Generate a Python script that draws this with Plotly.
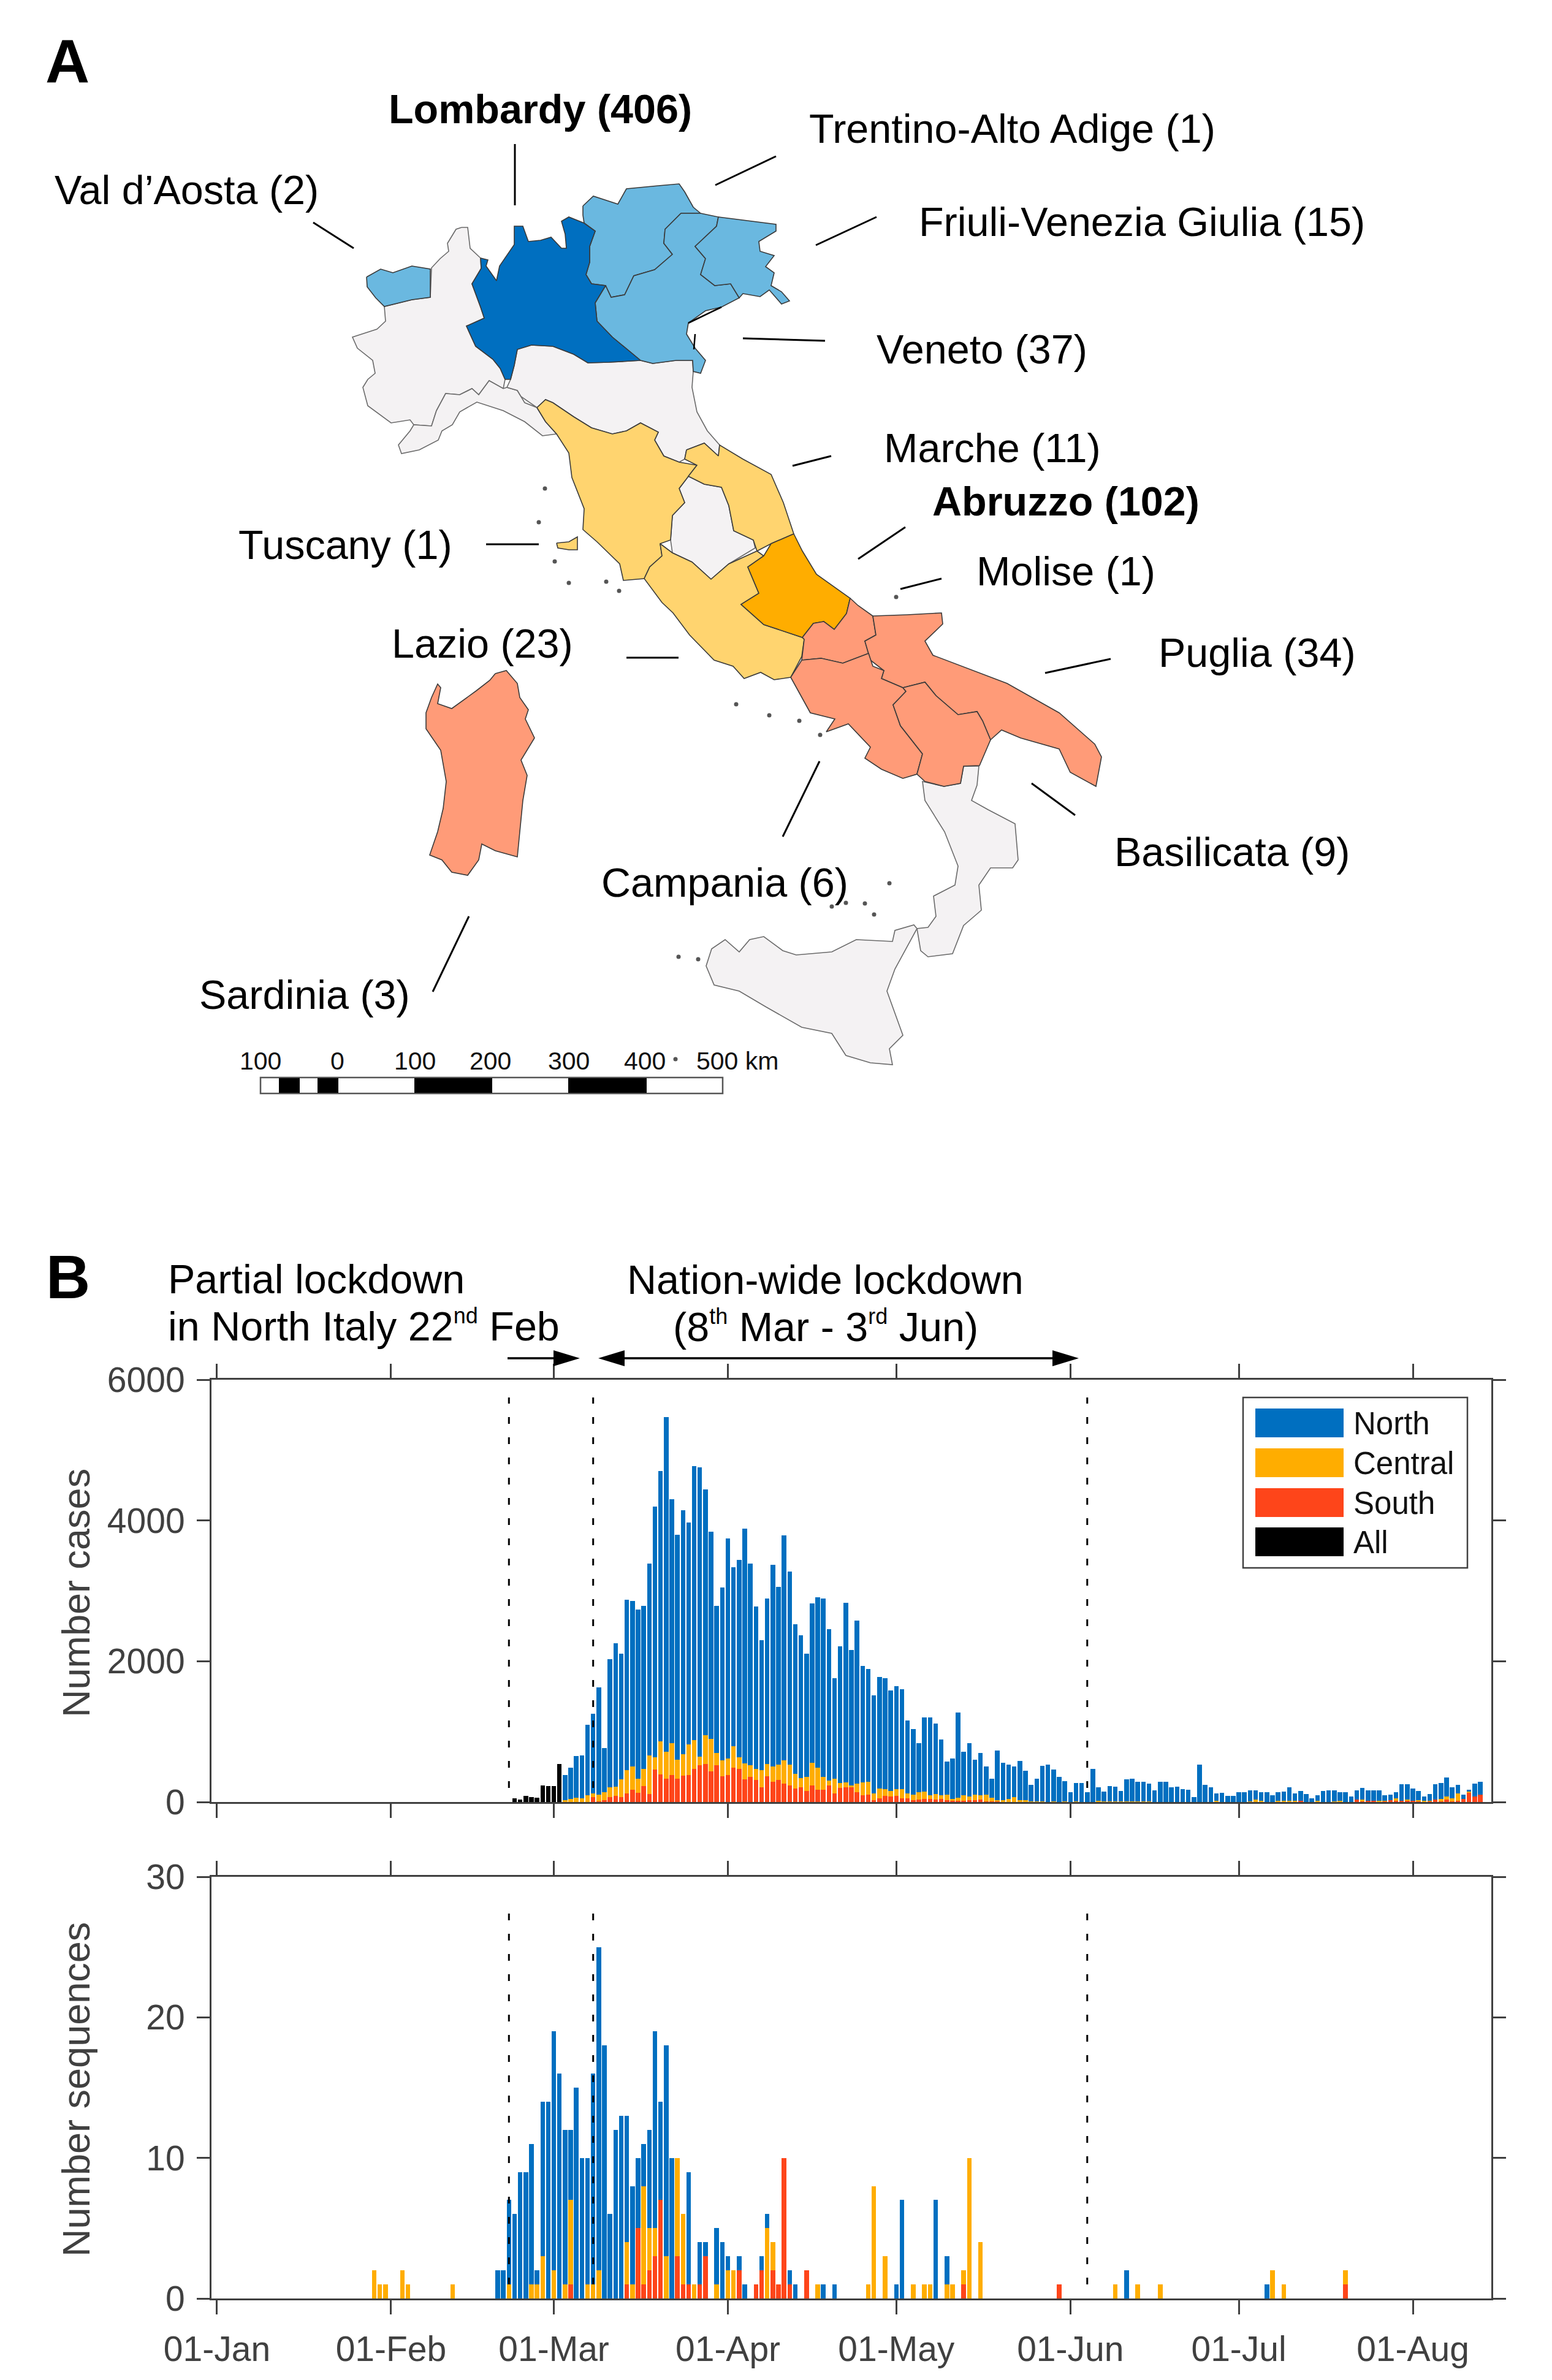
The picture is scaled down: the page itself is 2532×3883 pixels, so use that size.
import pandas as pd
import plotly.graph_objects as go

# ---- panel B data ----
# days counted from 01-Jan-2020
all_days = [53, 54, 55, 56, 57, 58, 59, 60, 61]
all_cases = [53, 36, 89, 71, 62, 231, 227, 227, 538]

case_days = list(range(62, 226))
# stack tops: total height, top of central+south, top of south
cases_total = [
    387, 489, 653, 662, 1098, 1258, 1631, 764, 2031, 2258,
    2111, 2871, 2858, 2733, 2787, 3391, 4200, 4702, 5467, 4298,
    3800, 4147, 3969, 4773, 4756, 4440, 3844, 2787, 3044, 3742,
    3338, 3440, 3884, 3387, 2778, 2302, 2889, 3369, 3053, 3791,
    3276, 2524, 2369, 2107, 2822, 2907, 2889, 2458, 1756, 2209,
    2827, 2160, 2578, 1933, 1893, 1511, 1773, 1756, 1587, 1644,
    1604, 1156, 1040, 840, 1200, 1200, 1116, 884, 578, 618,
    1271, 715, 835, 600, 697, 502, 328, 728, 558, 535,
    507, 585, 444, 242, 333, 513, 535, 460, 358, 299,
    139, 270, 270, 136, 467, 206, 148, 226, 220, 154,
    319, 334, 284, 284, 261, 168, 290, 290, 206, 220,
    183, 174, 67, 531, 241, 206, 119, 133, 87, 87,
    139, 139, 162, 162, 139, 139, 96, 139, 148, 212,
    122, 154, 116, 52, 96, 154, 162, 168, 139, 139,
    75, 168, 203, 168, 168, 168, 96, 102, 136, 255,
    255, 189, 154, 81, 116, 252, 273, 351, 212, 241,
    102, 174, 261, 287,
]
cases_central_top = [
    27, 40, 62, 53, 98, 124, 107, 142, 209, 218,
    320, 453, 507, 333, 467, 662, 636, 858, 711, 836,
    600, 676, 818, 876, 644, 947, 893, 698, 591, 618,
    796, 640, 551, 524, 467, 453, 538, 502, 533, 591,
    533, 400, 338, 356, 560, 489, 360, 302, 333, 271,
    276, 231, 258, 276, 289, 124, 191, 187, 160, 187,
    187, 124, 102, 142, 147, 98, 116, 98, 107, 44,
    62, 98, 76, 107, 98, 102, 58, 22, 29, 44,
    67, 22, 29, 9, 9, 9, 0, 9, 0, 9,
    0, 9, 0, 0, 0, 17, 9, 9, 9, 9,
    9, 12, 12, 12, 9, 0, 0, 0, 0, 0,
    0, 0, 0, 0, 0, 0, 15, 0, 0, 0,
    0, 0, 9, 32, 17, 0, 0, 17, 17, 17,
    17, 17, 0, 0, 17, 0, 0, 12, 17, 0,
    0, 38, 32, 17, 17, 17, 17, 23, 52, 17,
    38, 17, 23, 17, 17, 32, 41, 81, 49, 119,
    44, 145, 81, 102,
]
cases_south = [
    0, 0, 0, 0, 0, 67, 13, 22, 71, 89,
    71, 124, 178, 133, 227, 111, 458, 391, 333, 387,
    333, 373, 387, 467, 520, 542, 436, 524, 369, 382,
    489, 467, 320, 356, 316, 213, 364, 289, 311, 258,
    231, 191, 213, 160, 236, 178, 173, 231, 124, 204,
    213, 213, 142, 98, 102, 22, 53, 89, 80, 89,
    53, 53, 22, 31, 44, 44, 36, 40, 22, 18,
    18, 18, 22, 22, 36, 9, 9, 9, 0, 0,
    0, 0, 0, 0, 0, 0, 0, 0, 0, 0,
    0, 0, 0, 0, 0, 0, 0, 0, 0, 0,
    0, 0, 0, 0, 0, 0, 0, 0, 0, 0,
    0, 0, 0, 0, 0, 0, 0, 0, 0, 0,
    0, 0, 0, 0, 0, 0, 0, 0, 0, 0,
    0, 17, 0, 0, 0, 0, 0, 0, 0, 0,
    0, 38, 17, 17, 17, 0, 9, 23, 17, 17,
    23, 17, 9, 0, 9, 32, 9, 32, 9, 17,
    44, 139, 81, 102,
]

seq_days = [
    28, 29, 30, 33, 34, 42, 50, 51, 52, 53, 54, 55, 56, 57, 58, 59, 60, 61, 62, 63,
    64, 65, 66, 67, 68, 69, 70, 71, 72, 73, 74, 75, 76, 77, 78, 79, 80, 81, 82, 83,
    84, 85, 86, 87, 89, 90, 91, 92, 93, 94, 96, 97, 98, 99, 100, 101, 102, 103, 105, 107,
    108, 110, 116, 117, 119, 121, 122, 124, 126, 127, 128, 130, 131, 133, 134, 136, 150, 160, 162, 164,
    168, 187, 188, 190, 201,
]
seq_total = [
    2, 1, 1, 2, 1, 1, 2, 2, 7, 6, 9, 9, 11, 2, 14, 14, 19, 16, 12, 12,
    15, 10, 10, 16, 25, 18, 6, 12, 13, 13, 8, 10, 11, 12, 19, 14, 18, 10, 10, 6,
    9, 1, 4, 4, 5, 4, 3, 2, 3, 1, 1, 3, 6, 4, 1, 10, 2, 1, 2, 1,
    1, 1, 1, 8, 3, 1, 7, 1, 1, 1, 7, 3, 1, 2, 10, 4, 1, 1, 2, 1,
    1, 1, 2, 1, 2,
]
seq_central_top = [
    2, 1, 1, 2, 1, 1, 0, 0, 1, 0, 0, 0, 1, 1, 3, 0, 2, 0, 1, 7,
    0, 0, 1, 1, 2, 0, 0, 0, 0, 4, 1, 5, 8, 5, 5, 7, 3, 0, 10, 6,
    1, 1, 1, 3, 1, 0, 2, 2, 2, 0, 1, 2, 5, 4, 1, 10, 1, 0, 2, 1,
    0, 0, 1, 8, 3, 0, 0, 1, 1, 1, 0, 1, 1, 2, 10, 4, 1, 1, 0, 1,
    1, 0, 2, 1, 2,
]
seq_south = [
    0, 0, 0, 0, 0, 0, 0, 0, 0, 0, 0, 0, 0, 0, 0, 0, 0, 0, 0, 1,
    0, 0, 0, 0, 0, 0, 0, 0, 0, 1, 0, 5, 1, 2, 3, 7, 0, 0, 3, 1,
    1, 0, 1, 3, 0, 0, 0, 0, 2, 0, 1, 2, 0, 2, 1, 10, 1, 0, 2, 0,
    0, 0, 0, 0, 0, 0, 0, 0, 0, 0, 0, 0, 0, 1, 0, 0, 1, 0, 0, 0,
    0, 0, 0, 0, 1,
]

lockdown_days = [52, 67, 155]

legend_names = ["North", "Central", "South", "All"]
COL_NORTH = "#006FC0"
COL_CENTRAL = "#FFAD00"
COL_SOUTH = "#FE451A"
COL_ALL = "#000000"
legend_colors = [COL_NORTH, COL_CENTRAL, COL_SOUTH, COL_ALL]

# ---- panel A outlines (page pixels) ----
piedmont = [(753,371),(744,374),(730,397),(732,410),(718,422),(704,437),(702,485),(672,489),(627,500),(629,524),
            (615,537),(575,550),(583,568),(608,588),(612,609),(600,619),(592,632),(600,662),(638,690),(669,685),
            (675,693),(704,695),(712,670),(727,642),(750,644),(770,634),(781,644),(798,621),(821,634),(824,619),
            (816,601),(804,586),(776,565),(761,532),(790,519),(784,501),(770,463),(785,438),(784,421),(767,405),(763,371)]
aosta = [(598,452),(621,439),(641,445),(672,434),(702,439),(702,485),(672,489),(652,494),(627,500),(613,486),(599,468)]
lombardy = [(784,421),(796,424),(793,434),(810,458),(815,434),(839,399),(839,369),(853,369),(862,394),(882,392),
            (899,387),(916,405),(924,405),(922,382),(916,361),(928,354),(953,364),(971,377),(962,402),(962,428),
            (956,448),(965,463),(988,466),(971,494),(974,524),(999,550),(1045,588),(994,591),(959,592),(936,578),
            (902,565),(867,563),(844,570),(839,596),(833,619),(824,619),(816,601),(804,586),(776,565),(761,532),
            (790,519),(784,501),(770,463),(785,438)]
trentino = [(951,336),(968,320),(1008,333),(1022,308),(1074,303),(1108,300),(1117,313),(1131,338),(1143,348),(1111,348),
            (1085,374),(1083,397),(1097,415),(1068,440),(1034,450),(1019,481),(997,485),(988,466),(965,463),(956,448),
            (962,428),(962,402),(971,377),(953,364),(951,351)]
veneto = [(1111,348),(1143,348),(1172,354),(1169,369),(1134,402),(1151,422),(1143,448),(1166,466),(1192,463),(1206,486),
          (1177,501),(1151,507),(1123,527),(1120,545),(1134,568),(1151,588),(1143,609),(1131,606),(1130,588),(1103,588),
          (1065,593),(1045,588),(999,550),(974,524),(971,494),(988,466),(997,485),(1019,481),(1034,450),(1068,440),
          (1097,415),(1083,397),(1085,374)]
friuli = [(1172,354),(1212,359),(1266,366),(1266,377),(1238,394),(1240,410),(1263,417),(1249,435),(1263,445),(1258,466),
          (1275,476),(1288,491),(1275,496),(1255,473),(1240,484),(1212,479),(1206,486),(1192,463),(1166,466),(1143,448),
          (1151,422),(1134,402),(1169,369)]
emilia = [(833,619),(839,596),(844,570),(867,563),(902,565),(936,578),(959,592),(994,591),(1045,588),(1065,593),
          (1103,588),(1130,588),(1131,606),(1129,632),(1137,672),(1154,703),(1174,726),(1172,744),(1149,723),(1120,734),
          (1117,749),(1108,754),(1083,744),(1068,718),(1074,705),(1045,690),(1022,703),(999,708),(965,698),(936,680),
          (902,657),(890,652),(876,665),(850,647),(844,637),(827,632)]
liguria = [(827,632),(844,637),(850,647),(856,657),(876,665),(890,688),(908,708),(885,711),(856,688),(821,670),
           (778,656),(750,672),(738,693),(721,703),(715,718),(684,734),(655,740),(650,726),(669,703),(675,693),
           (704,695),(712,670),(727,642),(750,644),(770,634),(781,644),(798,621),(821,634)]
tuscany = [(876,665),(890,652),(902,657),(936,680),(965,698),(999,708),(1022,703),(1045,690),(1074,705),(1068,718),
           (1083,744),(1108,754),(1137,759),(1123,777),(1108,797),(1117,820),(1097,841),(1094,881),(1077,887),(1080,907),
           (1060,925),(1051,944),(1017,947),(1011,920),(974,884),(951,864),(953,830),(933,779),(928,739),(908,708),(890,688)]
elba = [(908,886),(928,884),(942,876),(942,897),(928,897),(910,894)]
marche = [(1120,734),(1149,723),(1172,744),(1174,726),(1212,749),(1258,774),(1278,820),(1295,871),(1258,887),(1235,899),
          (1229,881),(1197,866),(1189,825),(1177,795),(1149,790),(1123,777),(1137,759),(1117,749)]
umbria = [(1123,777),(1149,790),(1177,795),(1189,825),(1197,866),(1229,881),(1232,894),(1189,920),(1160,945),(1129,917),
          (1097,902),(1094,881),(1097,841),(1117,820),(1108,797)]
lazio = [(1077,887),(1097,902),(1129,917),(1160,945),(1189,920),(1235,899),(1246,907),(1220,925),(1238,968),(1209,986),
         (1246,1019),(1309,1040),(1312,1043),(1308,1071),(1290,1105),(1263,1109),(1241,1097),(1214,1107),(1196,1087),
         (1165,1077),(1125,1036),(1098,1000),(1080,983),(1051,944),(1060,925),(1080,907)]
abruzzo = [(1295,871),(1309,899),(1332,937),(1387,976),(1381,1001),(1361,1027),(1344,1014),(1327,1017),(1309,1040),(1246,1019),
           (1209,986),(1238,968),(1220,925),(1246,907),(1258,887)]
molise = [(1387,976),(1400,988),(1424,1005),(1429,1036),(1411,1046),(1417,1066),(1375,1082),(1339,1074),(1308,1077),(1312,1043),
          (1309,1040),(1327,1017),(1344,1014),(1361,1027),(1381,1001)]
puglia = [(1424,1005),(1480,1003),(1536,1000),(1538,1018),(1509,1046),(1522,1069),(1643,1115),(1728,1163),(1786,1214),(1797,1235),
          (1788,1283),(1746,1260),(1728,1222),(1665,1204),(1634,1191),(1616,1207),(1603,1176),(1594,1161),(1563,1166),(1527,1135),
          (1509,1113),(1473,1122),(1438,1107),(1442,1094),(1420,1077),(1411,1046),(1429,1036)]
campania = [(1308,1077),(1340,1074),(1375,1082),(1417,1066),(1424,1087),(1442,1094),(1438,1107),(1473,1122),(1478,1128),(1457,1150),
            (1469,1184),(1505,1230),(1496,1263),(1473,1270),(1438,1255),(1411,1237),(1420,1219),(1384,1181),(1348,1194),(1362,1173),
            (1322,1163),(1290,1105)]
basilicata = [(1473,1122),(1509,1113),(1527,1135),(1563,1166),(1594,1161),(1603,1176),(1616,1207),(1598,1249),(1572,1250),(1567,1278),
              (1540,1283),(1509,1275),(1496,1263),(1505,1230),(1469,1184),(1457,1150),(1478,1128)]
calabria = [(1572,1250),(1597,1250),(1594,1281),(1585,1306),(1612,1321),(1656,1344),(1661,1403),(1652,1416),(1616,1416),(1597,1444),
            (1601,1485),(1572,1510),(1554,1556),(1514,1561),(1502,1551),(1496,1515),(1514,1513),(1527,1495),(1523,1462),(1558,1444),
            (1563,1413),(1541,1357),(1509,1306),(1505,1275),(1540,1283),(1567,1278)]
sicily = [(1496,1515),(1460,1581),(1447,1617),(1460,1653),(1473,1689),(1451,1711),(1456,1737),(1420,1734),(1380,1722),(1357,1686),
          (1308,1676),(1250,1643),(1206,1617),(1165,1607),(1152,1576),(1161,1548),(1183,1533),(1206,1553),(1223,1533),(1246,1528),
          (1277,1551),(1299,1558),(1357,1553),(1397,1533),(1456,1536),(1460,1518),(1491,1509)]
sardinia = [(808,1099),(826,1094),(844,1115),(848,1138),(862,1158),(857,1173),(872,1204),(850,1240),(860,1265),(853,1306),
            (844,1398),(808,1388),(786,1377),(781,1403),(763,1428),(737,1423),(721,1403),(701,1395),(714,1357),(723,1319),
            (728,1275),(719,1224),(695,1189),(695,1163),(704,1138),(714,1116),(719,1122),(714,1148),(737,1156),(777,1127),(799,1110)]
island_x = [889, 879, 905, 928, 989, 1010, 1338, 1201, 1255, 1451, 1411, 1426, 1380, 1357, 1107, 1139, 1102, 1462, 1304]
island_y = [797, 852, 916, 951, 949, 964, 1199, 1149, 1167, 1441, 1474, 1492, 1473, 1479, 1561, 1565, 1728, 974, 1176]

COL_NONE = "#F4F2F3"
COL_LIGHT_BLUE = "#6AB8E0"
COL_LIGHT_ORANGE = "#FFD46F"
COL_SALMON = "#FF9B78"
map_regions = [
    (piedmont, COL_NONE), (liguria, COL_NONE), (emilia, COL_NONE), (umbria, COL_NONE), (calabria, COL_NONE), (sicily, COL_NONE),
    (aosta, COL_LIGHT_BLUE), (trentino, COL_LIGHT_BLUE), (veneto, COL_LIGHT_BLUE), (friuli, COL_LIGHT_BLUE),
    (lombardy, COL_NORTH), (tuscany, COL_LIGHT_ORANGE), (elba, COL_LIGHT_ORANGE), (marche, COL_LIGHT_ORANGE),
    (lazio, COL_LIGHT_ORANGE), (abruzzo, COL_CENTRAL), (molise, COL_SALMON), (puglia, COL_SALMON),
    (campania, COL_SALMON), (basilicata, COL_SALMON), (sardinia, COL_SALMON),
]

region_labels = [
    ("<b>Lombardy (406)</b>", 632, 178), ("Trentino-Alto Adige (1)", 1318, 210), ("Val d’Aosta (2)", 87, 310),
    ("Friuli-Venezia Giulia (15)", 1497, 362), ("Veneto (37)", 1428, 570), ("Marche (11)", 1440, 731),
    ("<b>Abruzzo (102)</b>", 1519, 818), ("Tuscany (1)", 387, 889), ("Molise (1)", 1591, 932),
    ("Lazio (23)", 637, 1050), ("Puglia (34)", 1888, 1065), ("Basilicata (9)", 1816, 1390),
    ("Campania (6)", 979, 1440), ("Sardinia (3)", 323, 1623),
]
pointer_lines = [
    (840, 235, 840, 335), (511, 363, 577, 405), (1266, 255, 1167, 302), (1430, 354, 1331, 400),
    (1212, 552, 1346, 556), (1293, 760, 1356, 744), (1477, 860, 1400, 912), (1536, 944, 1469, 961),
    (793, 888, 879, 888), (1022, 1073, 1107, 1073), (1705, 1098, 1812, 1075), (1683, 1278, 1754, 1330),
    (1337, 1242, 1277, 1365), (765, 1495, 706, 1618),
]
scale_labels = [("100", 425), ("0", 550), ("100", 677), ("200", 800), ("300", 928), ("400", 1052), ("500 km", 1203)]
scale_black = [(455, 489), (518, 552), (676, 803), (927, 1055)]


def to_dates(days):
    return pd.Timestamp("2020-01-01") + pd.to_timedelta(days, unit="D")


def stack_parts(total, central_top, south):
    # the picture gives stack tops, the bars want each part on its own
    north = [t - c for t, c in zip(total, central_top)]
    central = [c - s for c, s in zip(central_top, south)]
    return north, central, south


W, H = 2532, 3883
FONT = "Liberation Sans"
AXIS_COL = "#404040"
BAR_WIDTH = 0.82 * 86400000

fig = go.Figure()

# map first, on a hidden axis pair that covers the page
for outline, colour in map_regions:
    xs, ys = zip(*outline)
    fig.add_trace(go.Scatter(
        x=list(xs) + [xs[0]], y=list(ys) + [ys[0]], mode="lines", fill="toself", fillcolor=colour,
        line=dict(color="#6a6a6a" if colour == COL_NONE else "#3a3a3a", width=1.6),
        xaxis="x3", yaxis="y3", showlegend=False, hoverinfo="skip",
    ))
fig.add_trace(go.Scatter(x=island_x, y=island_y, mode="markers", marker=dict(color="#555555", size=7),
                         xaxis="x3", yaxis="y3", showlegend=False, hoverinfo="skip"))

# cases
north, central, south = stack_parts(cases_total, cases_central_top, cases_south)
case_dates = to_dates(case_days)
for name, values, colour in [("South", south, COL_SOUTH), ("Central", central, COL_CENTRAL), ("North", north, COL_NORTH)]:
    fig.add_trace(go.Bar(x=case_dates, y=values, name=name, marker=dict(color=colour, line_width=0),
                         width=BAR_WIDTH, xaxis="x", yaxis="y", showlegend=False))
fig.add_trace(go.Bar(x=to_dates(all_days), y=all_cases, name="All", marker=dict(color=COL_ALL, line_width=0),
                     width=BAR_WIDTH, xaxis="x", yaxis="y", showlegend=False))

# sequences
north, central, south = stack_parts(seq_total, seq_central_top, seq_south)
seq_dates = to_dates(seq_days)
for name, values, colour in [("South", south, COL_SOUTH), ("Central", central, COL_CENTRAL), ("North", north, COL_NORTH)]:
    fig.add_trace(go.Bar(x=seq_dates, y=values, name=name, marker=dict(color=colour, line_width=0),
                         width=BAR_WIDTH, xaxis="x2", yaxis="y2", showlegend=False))

shapes = []
annotations = []


def page_text(text, x, y, size, anchor="left", colour="black", angle=0):
    annotations.append(dict(text=text, x=x, y=y, xref="x3", yref="y3", xanchor=anchor, yanchor="middle",
                            showarrow=False, textangle=angle, font=dict(family=FONT, size=size, color=colour)))


def page_line(x0, y0, x1, y1, width=2.5, colour="black"):
    shapes.append(dict(type="line", xref="x3", yref="y3", x0=x0, y0=y0, x1=x1, y1=y1,
                       line=dict(color=colour, width=width)))


def page_rect(x0, y0, x1, y1, fill, line_col=None, line_w=0):
    shapes.append(dict(type="rect", xref="x3", yref="y3", x0=x0, y0=y0, x1=x1, y1=y1, fillcolor=fill,
                       line=dict(color=line_col or fill, width=line_w)))


def page_triangle(tip, base, y, half=13):
    shapes.append(dict(type="path", xref="x3", yref="y3", path=f"M{tip},{y} L{base},{y - half} L{base},{y + half} Z",
                       fillcolor="black", line=dict(color="black", width=0)))


def small_sup(text):
    return f"<sup><span style='font-size:36px'>{text}</span></sup>"


# dotted lockdown dates
for day in lockdown_days:
    date = to_dates(day)
    shapes.append(dict(type="line", xref="x", yref="y", x0=date, x1=date, y0=200, y1=5747,
                       line=dict(color="black", width=3, dash="11px,22px")))
    shapes.append(dict(type="line", xref="x2", yref="y2", x0=date, x1=date, y0=1, y1=27.5,
                       line=dict(color="black", width=3, dash="11px,22px")))

# labels round the map
for text, x, y in region_labels:
    page_text(text, x, y, 66.5)
for x0, y0, x1, y1 in pointer_lines:
    page_line(x0, y0, x1, y1, 3)
page_text("<b>A</b>", 72, 100, 100)
page_text("<b>B</b>", 73, 2083, 100)

# venice lagoon
page_line(1123, 527, 1177, 501, 2.5)
page_line(1134, 545, 1132, 570, 2.5)

# scale bar
page_rect(425, 1758, 1179, 1784, "white", "#555555", 2.5)
for x0, x1 in scale_black:
    page_rect(x0, 1759, x1, 1783, "black")
for text, x in scale_labels:
    page_text(text, x, 1731, 41, anchor="center", colour="#111111")

# headings and arrows of panel B
page_text("Partial lockdown", 272, 2087, 66.5)
page_text(f"in North Italy 22{small_sup('nd')} Feb", 272, 2163, 66.5)
page_text("Nation-wide lockdown", 1346, 2088, 66.5, anchor="center")
page_text(f"(8{small_sup('th')} Mar - 3{small_sup('rd')} Jun)", 1347, 2164, 66.5, anchor="center")
page_line(828, 2216, 905, 2216, 3.5)
page_triangle(946, 903, 2216)
page_line(1017, 2216, 1720, 2216, 3.5)
page_triangle(976, 1019, 2216)
page_triangle(1760, 1717, 2216)

# axis titles
page_text("Number cases", 124, 2599, 63, anchor="center", colour=AXIS_COL, angle=-90)
page_text("Number sequences", 124, 3409, 63, anchor="center", colour=AXIS_COL, angle=-90)

# legend, the swatches are much wider than plotly's own
page_rect(2028, 2280, 2394, 2558, "white", "#404040", 2.5)
for name, colour, top in zip(legend_names, legend_colors, [2298, 2363, 2428, 2492]):
    page_rect(2048, top, 2192, top + 47, colour)
    page_text(name, 2206, top + 24, 51, colour="#111111")

x_axis = dict(
    type="date", range=["2019-12-31 00:28", "2020-08-14 23:17"], domain=[345 / W, 2433 / W],
    dtick="M1", tick0="2020-01-01", tickformat="%d-%b", automargin=False,
    showline=True, linecolor=AXIS_COL, linewidth=3, mirror="ticks", ticks="outside", ticklen=23, tickwidth=2.5,
    tickcolor=AXIS_COL, showgrid=False, zeroline=False,
    tickfont=dict(family=FONT, size=57, color=AXIS_COL),
)
y_axis = dict(
    showline=True, linecolor=AXIS_COL, linewidth=3, mirror="ticks", ticks="outside", ticklen=21, tickwidth=2.5,
    tickcolor=AXIS_COL, showgrid=False, zeroline=False, ticklabelstandoff=8, automargin=False,
    tickfont=dict(family=FONT, size=57, color=AXIS_COL),
)

fig.update_layout(
    width=W, height=H, autosize=False, margin=dict(l=0, r=0, t=0, b=0, pad=0),
    paper_bgcolor="white", plot_bgcolor="rgba(0,0,0,0)", barmode="stack", bargap=0,
    font=dict(family=FONT), showlegend=False, shapes=shapes, annotations=annotations,
    xaxis=dict(x_axis, anchor="y", showticklabels=False),
    yaxis=dict(y_axis, anchor="x", domain=[1 - 2940 / H, 1 - 2251 / H], range=[0, 6000], tickvals=[0, 2000, 4000, 6000]),
    xaxis2=dict(x_axis, anchor="y2", ticklabelstandoff=8),
    yaxis2=dict(y_axis, anchor="x2", domain=[1 - 3750 / H, 1 - 3062 / H], range=[0, 30], tickvals=[0, 10, 20, 30]),
    xaxis3=dict(domain=[0, 1], range=[0, W], visible=False, anchor="y3", fixedrange=True),
    yaxis3=dict(domain=[0, 1], range=[H, 0], visible=False, anchor="x3", fixedrange=True),
)

# the page's default body margin would push everything 8px off
fig.write_html("out.html", config={"displayModeBar": False}, post_script="document.body.style.margin = '0';")
